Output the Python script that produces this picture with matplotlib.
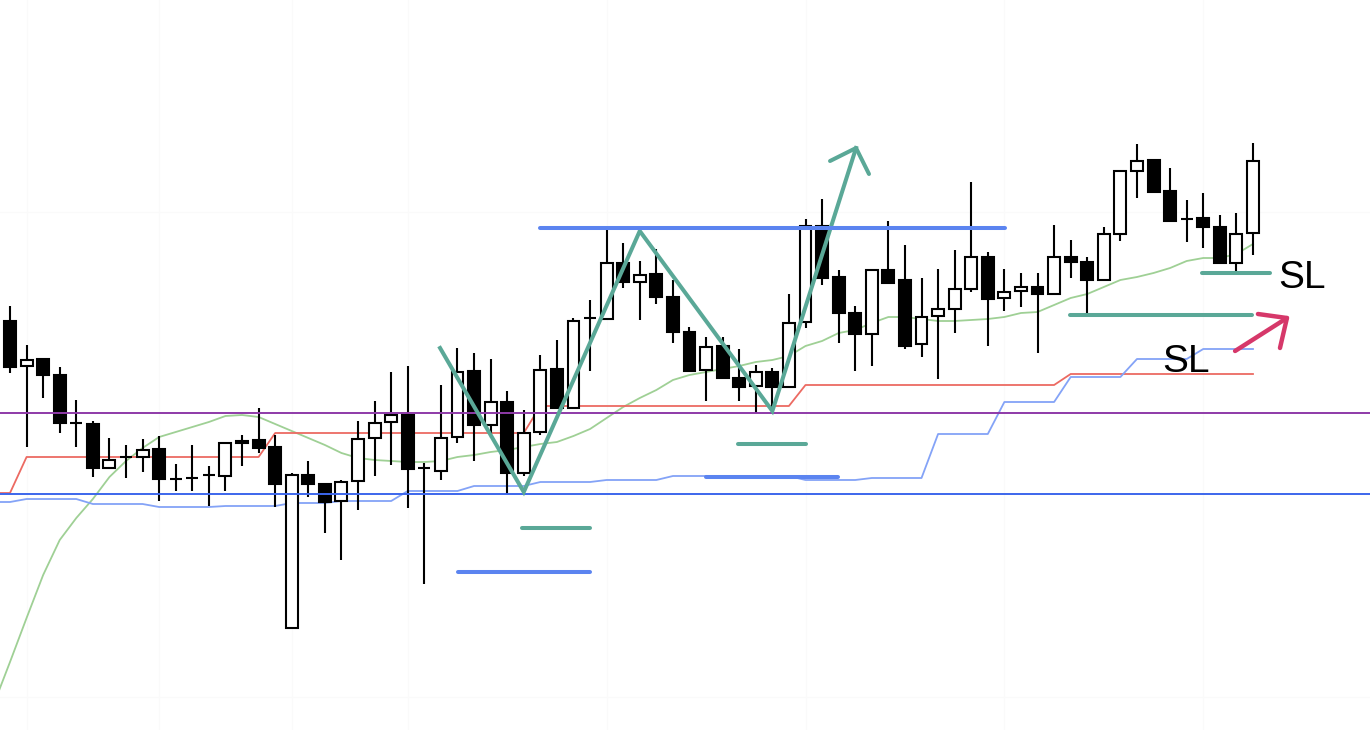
import matplotlib
matplotlib.use("Agg")
import matplotlib.pyplot as plt
from matplotlib.patches import Rectangle
import numpy as np

# candle values (price axis runs downward, like the screen)
opens = [321, 366, 359, 375, 423, 424, 468, 457, 457, 449, 479, 478, 475, 476, 441, 440, 447, 628, 475, 484,
         501, 481, 438, 422, 415, 468, 471, 437, 371, 425, 402, 473, 432, 369, 408, 318, 319, 263, 282, 274,
         297, 332, 370, 346, 378, 386, 372, 387, 322, 226, 277, 313, 334, 270, 280, 344, 316, 309, 289, 257,
         298, 291, 287, 294, 257, 262, 280, 234, 171, 160, 191, 219, 218, 227, 263, 233]
closes = [367, 360, 375, 423, 423, 468, 460, 457, 450, 479, 479, 478, 475, 443, 443, 448, 484, 475, 484, 502,
          482, 439, 423, 415, 469, 468, 438, 372, 425, 402, 473, 433, 370, 408, 321, 318, 263, 282, 275, 297,
          332, 371, 347, 378, 387, 372, 387, 323, 226, 278, 313, 334, 270, 283, 346, 317, 309, 289, 257, 299,
          292, 287, 294, 257, 262, 280, 234, 171, 161, 192, 221, 219, 227, 263, 234, 161]
highs = [306, 345, 358, 367, 400, 421, 438, 445, 439, 436, 464, 445, 466, 443, 435, 408, 435, 473, 461, 484,
         480, 421, 401, 372, 366, 463, 385, 348, 353, 359, 391, 410, 355, 340, 318, 300, 227, 243, 261, 249,
         280, 327, 337, 337, 349, 365, 368, 294, 219, 199, 270, 306, 269, 221, 245, 278, 269, 250, 182, 252,
         269, 273, 273, 225, 240, 257, 227, 171, 144, 160, 168, 200, 193, 215, 213, 143]
lows = [373, 447, 398, 433, 447, 477, 468, 478, 472, 501, 491, 491, 506, 491, 466, 453, 507, 628, 497, 533,
        560, 510, 476, 465, 508, 584, 480, 443, 461, 438, 494, 476, 435, 408, 408, 371, 319, 288, 320, 304,
        343, 372, 401, 378, 401, 413, 413, 387, 328, 285, 343, 371, 366, 283, 349, 357, 379, 333, 292, 346,
        311, 307, 353, 294, 278, 313, 280, 241, 198, 193, 221, 242, 248, 263, 273, 255]

# indicator lines, first value belongs to the bar just off the left edge
ma_green = [705, 662, 618, 575, 540, 518, 499, 477, 461, 448, 437, 432, 427, 422, 416, 415, 417, 424, 431, 438,
            445, 453, 458, 460, 461, 462, 462, 461, 457, 455, 452, 450, 447, 444, 442, 436, 429, 418, 407, 398,
            390, 380, 375, 372, 369, 366, 362, 360, 356, 346, 341, 333, 330, 323, 317, 317, 319, 321, 321, 320,
            319, 317, 313, 312, 305, 298, 294, 287, 280, 277, 273, 268, 261, 258, 258, 254, 244]
base_red = [493, 493, 457, 457, 457, 457, 457, 457, 457, 457, 457, 457, 457, 457, 457, 457, 457, 433, 433, 433,
            433, 433, 433, 433, 433, 433, 433, 433, 433, 433, 433, 433, 433, 406, 406, 406, 406, 406, 406, 406,
            406, 406, 406, 406, 406, 406, 406, 406, 406, 385, 385, 385, 385, 385, 385, 385, 385, 385, 385, 385,
            385, 385, 385, 385, 385, 374, 374, 374, 374, 374, 374, 374, 374, 374, 374, 374, 374]
span_blue = [502, 502, 499, 499, 499, 499, 504, 504, 504, 504, 507, 507, 507, 507, 506, 506, 506, 506, 503, 503,
             503, 501, 501, 501, 501, 491, 491, 491, 491, 486, 486, 486, 486, 482, 482, 482, 482, 480, 480, 480,
             480, 476, 476, 476, 476, 476, 476, 476, 476, 480, 480, 480, 480, 478, 478, 478, 478, 434, 434, 434,
             434, 402, 402, 402, 402, 377, 377, 377, 377, 359, 359, 359, 359, 349, 349, 349, 349]

level_purple = 413
level_blue = 494

# drawn annotations (bar index, price)
zig_x = [25.95, 31.0, 38.0, 46.0, 51.05]
zig_y = [348, 492, 231, 411, 148]
zig_head_x = [49.48, 51.05, 51.83]
zig_head_y = [161, 148, 174]
res_x = [31.98, 60.04]
res_y = 228
teal_marks = [(30.9, 35.0, 528), (43.93, 48.03, 444), (63.96, 74.94, 315), (71.93, 76.03, 273)]
blue_marks = [(27.03, 35.0, 572), (42.0, 49.96, 477)]
red_arrow_x = [73.92, 77.05]
red_arrow_y = [351, 318]
red_head_x = [75.3, 77.05, 76.63]
red_head_y = [314, 318, 348]
sl_labels = [(76.5, 288), (69.5, 372)]
grid_bars = [1, 9, 17, 24, 36, 48, 60, 72]
grid_levels = [212, 697]

teal = "#5aa897"
blue = "#5b84f0"
crimson = "#d6386a"

fig = plt.figure(figsize=(13.7, 7.3), dpi=100)
ax = fig.add_axes([0, 0, 1, 1])

for g in grid_bars:
    ax.axvline(g, color="#fafafa", lw=1, zorder=0)
for g in grid_levels:
    ax.axhline(g, color="#fafafa", lw=1, zorder=0)

xl = np.arange(-1, len(opens))
ax.plot(xl, ma_green, color="#9fd095", lw=1.3, zorder=1)
ax.plot(xl, base_red, color="#ec6a62", lw=1.3, zorder=1)
ax.plot(xl, span_blue, color="#84a3f7", lw=1.3, zorder=1)

w = 0.72
for i in range(len(opens)):
    o, c = opens[i], closes[i]
    ax.vlines(i, highs[i], lows[i], color="black", lw=1.5, zorder=2)
    face = "white" if c < o else "black"
    ax.add_patch(Rectangle((i - w / 2, min(o, c)), w, abs(o - c), facecolor=face,
                           edgecolor="black", lw=1.5, zorder=3))

ax.axhline(level_purple, color="#8e3aa8", lw=1.4, zorder=4)
ax.axhline(level_blue, color="#3c66ec", lw=1.4, zorder=4)

ax.plot(zig_x, zig_y, color=teal, lw=2.9, zorder=5, solid_joinstyle="miter")
ax.plot(zig_head_x, zig_head_y, color=teal, lw=2.9, zorder=5, solid_capstyle="round")
ax.plot(res_x, [res_y, res_y], color=blue, lw=2.9, zorder=5, solid_capstyle="round")
for x0, x1, y in teal_marks:
    ax.plot([x0, x1], [y, y], color=teal, lw=2.9, zorder=5, solid_capstyle="round")
for x0, x1, y in blue_marks:
    ax.plot([x0, x1], [y, y], color=blue, lw=2.9, zorder=5, solid_capstyle="round")
ax.plot(red_arrow_x, red_arrow_y, color=crimson, lw=3.2, zorder=5, solid_capstyle="round")
ax.plot(red_head_x, red_head_y, color=crimson, lw=3.2, zorder=5, solid_capstyle="round")

for x, y in sl_labels:
    ax.text(x, y, "SL", fontsize=28, family="Liberation Sans", color="black",
            ha="left", va="baseline", zorder=6)

ax.set_xlim(-10 / 16.573, 1360 / 16.573)
ax.set_ylim(730, 0)
ax.axis("off")

fig.savefig("out.png", dpi=100)
